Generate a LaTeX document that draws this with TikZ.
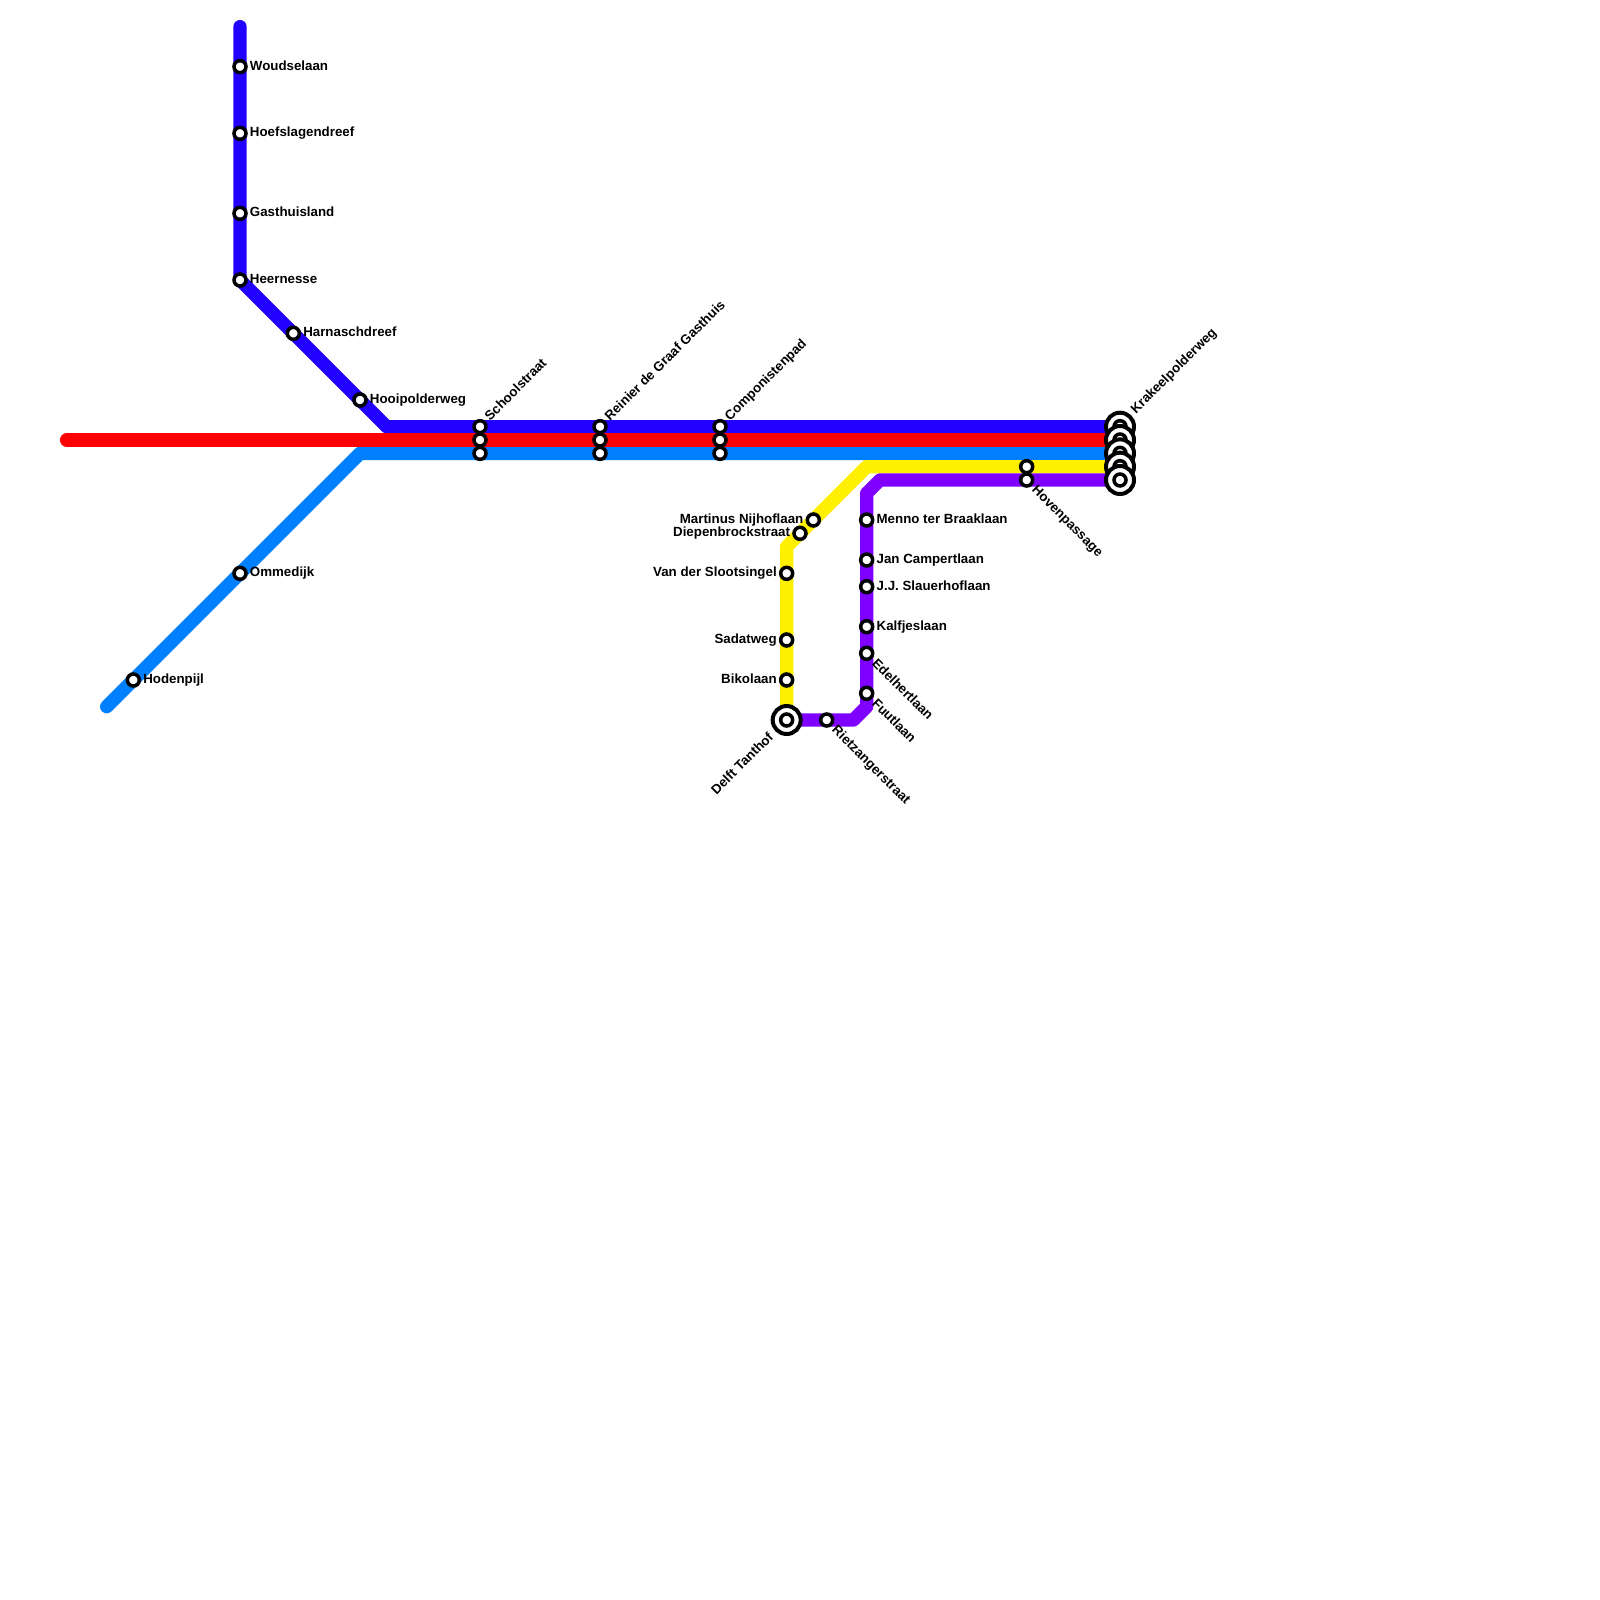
\documentclass[tikz,border=0pt]{standalone}
\usepackage{fontspec}
\setmainfont{Liberation Sans}
\usetikzlibrary{backgrounds}
\definecolor{lnblue}{HTML}{2200FF}
\definecolor{lnred}{HTML}{FF0000}
\definecolor{lnsky}{HTML}{0080FF}
\definecolor{lnyel}{HTML}{FFF000}
\definecolor{lnpur}{HTML}{8000FF}
\begin{document}
\begin{tikzpicture}[x=0.25cm, y=-0.25cm,
    st/.style={circle, draw=black, fill=white, line width=0.066cm, minimum size=0.225cm, inner sep=0pt},
    ic/.style={circle, draw=black, fill=white, line width=0.075cm, minimum size=0.525cm, inner sep=0pt},
    ln/.style={line width=0.25cm, line cap=round, line join=round},
    lb/.style={font=\fontsize{7.1}{8}\selectfont\bfseries, inner sep=0pt},
    lbe/.style={lb, anchor=mid west, xshift=0.18cm, yshift=0.025cm},
    lbw/.style={lb, anchor=mid east, xshift=-0.18cm, yshift=0.025cm},
    lbu/.style={lb, anchor=mid west, xshift=0.12cm, yshift=0.16cm, rotate=45},
    lbk/.style={lb, anchor=mid west, xshift=0.23cm, yshift=0.29cm, rotate=45},
    lbd/.style={lb, anchor=mid west, xshift=0.15cm, yshift=-0.134cm, rotate=-45},
    lbs/.style={lb, anchor=mid east, xshift=-0.30cm, yshift=-0.27cm, rotate=45}]
    \useasboundingbox (0,0) rectangle (120,120);
    % stations, dark blue
    \node[st] (Wou) at (18,5) {};
    \node[st] (Hoe) at (18,10) {};
    \node[st] (Gas) at (18,16) {};
    \node[st] (Hee) at (18,21) {};
    \node[st] (Har) at (22,25) {};
    \node[st] (Hoo) at (27,30) {};
    \foreach \i/\j in {Wou/Woudselaan,Hoe/Hoefslagendreef,Gas/Gasthuisland,Hee/Heernesse,Har/Harnaschdreef,Hoo/Hooipolderweg} {
        \node[lbe] (\i L) at (\i) {\j};
    }
    % stations, sky blue
    \node[st] (Omm) at (18,43) {};
    \node[st] (Hod) at (10,51) {};
    \node[lbe] (OmmL) at (Omm) {Ommedijk};
    \node[lbe] (HodL) at (Hod) {Hodenpijl};
    % shared stops on the trunk
    \foreach \i/\x in {Sch/36,Rei/45,Com/54} {
        \node[st] (\i1) at (\x,32) {};
        \node[st] (\i2) at (\x,33) {};
        \node[st] (\i3) at (\x,34) {};
    }
    \node[lbu] (SchL) at (Sch1) {Schoolstraat};
    \node[lbu] (ReiL) at (Rei1) {Reinier de Graaf Gasthuis};
    \node[lbu] (ComL) at (Com1) {Componistenpad};
    % stations, yellow
    \node[st] (Mar) at (61,39) {};
    \node[st] (Die) at (60,40) {};
    \node[st] (Van) at (59,43) {};
    \node[st] (Sad) at (59,48) {};
    \node[st] (Bik) at (59,51) {};
    \foreach \i/\j in {Mar/Martinus Nijhoflaan,Die/Diepenbrockstraat,Van/Van der Slootsingel,Sad/Sadatweg,Bik/Bikolaan} {
        \node[lbw] (\i L) at (\i) {\j};
    }
    % stations, purple
    \node[st] (Men) at (65,39) {};
    \node[st] (Jan) at (65,42) {};
    \node[st] (Sla) at (65,44) {};
    \node[st] (Kal) at (65,47) {};
    \node[st] (Ede) at (65,49) {};
    \node[st] (Fuu) at (65,52) {};
    \node[st] (Rie) at (62,54) {};
    \foreach \i/\j in {Men/Menno ter Braaklaan,Jan/Jan Campertlaan,Sla/J.J. Slauerhoflaan,Kal/Kalfjeslaan} {
        \node[lbe] (\i L) at (\i) {\j};
    }
    \node[lbd] (EdeL) at (Ede) {Edelhertlaan};
    \node[lbd] (FuuL) at (Fuu) {Fuutlaan};
    \node[lbd] (RieL) at (Rie) {Rietzangerstraat};
    \node[st] (Hov1) at (77,35) {};
    \node[st] (Hov2) at (77,36) {};
    \node[lbd] (HovL) at (Hov2) {Hovenpassage};
    % termini
    \node[ic] (Del) at (59,54) {};
    \node[st] (DelI) at (Del) {};
    \node[lbs] (DelL) at (Del) {Delft Tanthof};
    \foreach \i/\y in {1/32,2/33,3/34,4/35,5/36} {
        \node[ic] (Kra\i) at (84,\y) {};
        \node[st] (KraI\i) at (Kra\i) {};
    }
    \node[lbk] (KraL) at (Kra1) {Krakeelpolderweg};
    % free ends and bends
    \coordinate (BlTop) at (18,2);
    \coordinate (BlBnd) at (29,32);
    \coordinate (ReEnd) at (5,33);
    \coordinate (SkBnd) at (27,34);
    \coordinate (SkEnd) at (8,53);
    \coordinate (YeBn1) at (65,35);
    \coordinate (YeBn2) at (59,41);
    \coordinate (PuBn1) at (66,36);
    \coordinate (PuBn2) at (65,37);
    \coordinate (PuBn3) at (65,53);
    \coordinate (PuBn4) at (64,54);
    \begin{scope}[on background layer]
        \draw[ln, lnblue] (BlTop) -- (Hee.center) -- (BlBnd) -- (Kra1.center);
        \draw[ln, lnsky] (SkEnd) -- (SkBnd) -- (Kra3.center);
        \draw[ln, lnred] (ReEnd) -- (Kra2.center);
        \draw[ln, lnyel] (Kra4.center) -- (YeBn1) -- (YeBn2) -- (Del.center);
        \draw[ln, lnpur] (Kra5.center) -- (PuBn1) -- (PuBn2) -- (PuBn3) -- (PuBn4) -- (Del.center);
    \end{scope}
\end{tikzpicture}
\end{document}
